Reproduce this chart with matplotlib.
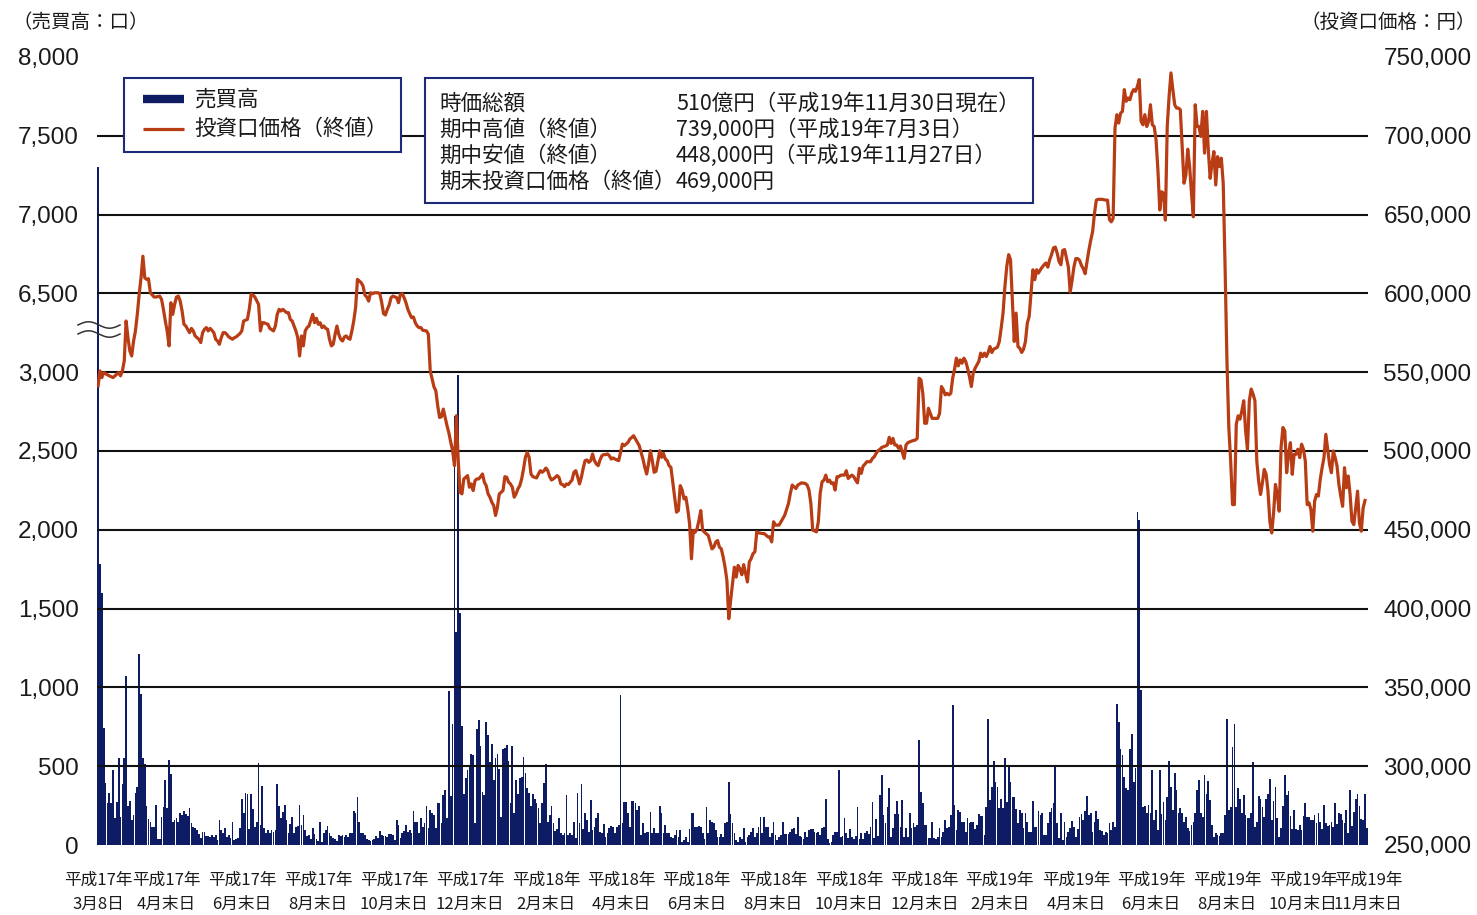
import matplotlib.pyplot as plt
import numpy as np
from matplotlib.lines import Line2D
from matplotlib.patches import Rectangle

plt.rcParams['font.family'] = ['Noto Sans CJK JP', 'DejaVu Sans']

NAVY = '#0e1c64'
FRAME = '#1c2a78'
RED = '#b83c14'
INK = '#1a1a1a'

# 売買高（口） per trading day, from 平成17年3月8日
volume = [
    7300, 1780, 1600, 740,
    395, 264, 327, 268, 475, 169, 274, 549, 179, 390,
    549, 1070, 247, 280, 158, 190, 331, 369, 1213, 960,
    549, 517, 247, 162, 148, 112, 112, 253, 38, 38,
    179, 243, 411, 236, 542, 449, 148, 158, 173, 148,
    200, 190, 217, 196, 184, 236, 141, 116, 105, 95,
    68, 42, 84, 84, 57, 57, 53, 63, 49, 63,
    32, 158, 95, 74, 105, 53, 63, 42, 148, 32,
    38, 42, 105, 289, 200, 331, 323, 99, 323, 226,
    116, 148, 521, 127, 373, 105, 74, 95, 78, 95,
    84, 95, 390,
    249, 169, 211, 253, 158, 78, 133, 179, 74, 116,
    120, 253, 127, 190, 95, 57, 63, 36, 105, 70,
    36, 25, 148, 21, 74, 95, 120, 74, 57, 42,
    36, 27, 63, 57, 63, 49, 63, 53, 78, 78,
    217, 200, 302, 148, 78, 74, 63, 36, 32, 27,
    32, 36, 57, 46, 91, 63, 57, 59, 53, 70,
    70, 63, 32, 158, 127, 42, 78, 91, 127, 84,
    95, 74, 215, 148, 148, 74, 169, 116, 141, 247,
    105, 222, 205, 190, 105, 264, 268, 137, 317, 348,
    169, 977, 310, 770,
    2720, 1350, 2980, 1470,
    753, 323, 422, 475, 500, 580, 570, 141, 738, 795,
    627, 338, 316, 781, 696, 527, 639, 411, 549, 580,
    485, 175, 612, 618, 633, 534, 268, 627, 205, 411,
    323, 422, 433, 559, 458, 359, 331, 247, 323, 289,
    268, 232, 137, 268, 395, 517, 148, 190, 247, 137,
    91, 99, 169, 78, 63, 78, 316, 63, 78, 63,
    148, 42, 331, 137, 390, 99, 200, 158, 84, 285,
    95, 116, 169, 205, 84, 74, 133, 53, 74, 105,
    120, 116, 74, 116, 127, 950, 137, 274, 274, 200,
    116, 280, 280, 264,
    222, 249, 63, 137, 74, 84, 84, 211, 74, 105,
    78, 74, 247, 200, 74, 127, 78, 78, 53, 42,
    63, 95, 53, 95, 21, 32, 53, 21, 99, 205,
    205, 112, 116, 120, 112, 74, 36, 243, 74, 158,
    148, 137, 95, 53, 53, 70, 53, 137, 148, 401,
    196, 141, 74, 32, 21, 53, 36, 105, 21, 53,
    63, 84, 105, 53, 74, 116, 179, 74, 179, 112,
    112, 53, 74, 148, 63, 32, 53, 63, 148, 70,
    70, 70, 84, 99, 105, 70, 179, 57, 53, 36,
    84, 53, 95, 99, 99, 84, 74,
    84, 63, 105, 116, 289, 36, 15, 21, 63, 84,
    84, 475, 53, 57, 169, 74, 42, 99, 53, 36,
    57, 238, 36, 78, 36, 78, 91, 70, 116, 274,
    42, 162, 57, 316, 443, 190, 137, 243, 359, 49,
    105, 196, 280, 196, 116, 285, 53, 105, 53, 205,
    105, 141, 116, 127, 669, 338, 268, 127, 127, 42,
    42, 148, 42, 36, 49, 105, 53, 84, 158, 105,
    116, 190, 886, 253, 95, 222, 211, 148, 148, 84,
    169, 137, 148, 148, 99, 127, 196, 184, 184, 63,
    243, 802, 285, 369, 534, 401, 369,
    232, 295, 232, 549, 274, 492, 401, 306, 306, 226,
    137, 222, 205, 105, 200, 148, 84, 84, 280, 112,
    112, 217, 190, 200, 63, 63, 137, 211, 232, 268,
    500, 137, 42, 200, 32, 148, 53, 84, 105, 154,
    116, 53, 99, 175, 196, 158, 217, 310, 190, 200,
    84, 148, 217, 162, 95, 91, 63, 84, 74, 137,
    95, 148, 116, 893, 781, 612, 570, 433, 359, 352,
    612, 707, 401, 490, 2110, 2060, 985, 243, 247, 205,
    253, 200, 479, 158, 222, 95, 479, 196, 274, 158,
    306, 534, 369, 222, 454, 348, 200, 232,
    200, 148, 179, 105, 91, 127, 148, 205, 348, 411,
    205, 179, 443, 323, 407, 285, 127, 53, 78,
    63, 57, 78, 78, 190, 802, 222, 243, 622, 770,
    243, 359, 289, 200, 316, 190, 169, 169, 205, 527,
    112, 148, 310, 289, 243, 175, 289, 323, 416, 158,
    280, 365, 169, 53, 105, 247, 443, 316, 344, 184,
    99, 222, 99, 95, 127, 95, 184, 264, 175, 175,
    158, 158, 190, 141, 200, 148, 99, 253, 137, 120,
    127, 148, 112, 268, 133, 200, 196, 158, 141, 222,
    74, 352, 120, 211, 289, 323, 247, 162, 158, 323,
    105,
]

# 投資口価格（終値） : trading-day index and close (円)
price_day = [
    0, 1, 2, 3, 5, 6, 8, 10, 11, 12, 13, 14, 15, 16, 17, 18, 19, 20, 21, 22,
    23, 24, 25, 26, 27, 28, 30, 31, 33, 34, 35, 36, 37, 38, 39, 40, 41, 42, 43, 44,
    45, 46, 47, 49, 50, 51, 52, 54, 55, 56, 57, 58, 59, 60, 61, 62, 63, 64, 65, 66,
    67, 68, 69, 70, 72, 73, 74, 76, 77, 78, 80, 81, 82, 83, 84, 86, 87, 88, 89, 90,
    91, 92, 94, 95, 96, 97, 98, 99, 100, 101, 102, 103, 104, 105, 106, 107, 108, 109, 110, 111,
    112, 113, 114, 115, 116, 117, 118, 119, 120, 121, 122, 123, 124, 125, 126, 127, 128, 129, 130, 131,
    132, 133, 134, 135, 136, 137, 138, 139, 140, 141, 142, 143, 144, 145, 146, 147, 148, 150, 151, 152,
    153, 154, 155, 156, 157, 158, 160, 161, 162, 163, 164, 165, 166, 167, 168, 169, 170, 171, 172, 173,
    174, 176, 177, 178, 180, 181, 182, 183, 184, 185, 186, 187, 188, 189, 190, 191, 192, 193, 194, 195,
    196, 197, 198, 199, 200, 201, 202, 203, 204, 205, 206, 207, 208, 209, 210, 211, 212, 213, 214, 215,
    216, 217, 218, 219, 220, 221, 222, 223, 224, 225, 226, 227, 228, 229, 230, 231, 232, 233, 234, 235,
    236, 237, 238, 239, 240, 241, 242, 243, 244, 245, 246, 247, 248, 249, 250, 251, 252, 253, 254, 255,
    256, 257, 258, 259, 260, 261, 262, 263, 264, 265, 266, 267, 268, 269, 270, 271, 272, 273, 274, 275,
    276, 277, 278, 279, 280, 281, 282, 283, 284, 285, 286, 287, 288, 289, 290, 291, 292, 293, 294, 295,
    296, 297, 298, 299, 300, 301, 302, 303, 304, 305, 306, 307, 308, 309, 310, 311, 312, 313, 314, 315,
    316, 317, 318, 319, 320, 321, 322, 323, 324, 325, 326, 327, 328, 329, 330, 331, 332, 333, 334, 335,
    336, 337, 338, 339, 340, 341, 342, 343, 344, 345, 346, 348, 349, 350, 351, 352, 353, 354, 356, 357,
    358, 359, 360, 361, 362, 363, 365, 366, 368, 370, 371, 372, 374, 375, 377, 379, 380, 381, 382, 383,
    385, 386, 387, 388, 389, 390, 391, 392, 393, 394, 395, 396, 397, 398, 399, 400, 401, 402, 403, 404,
    405, 406, 407, 408, 409, 410, 411, 412, 413, 414, 415, 416, 417, 418, 419, 420, 421, 422, 423, 424,
    425, 426, 427, 428, 429, 430, 432, 433, 434, 436, 438, 439, 440, 441, 442, 443, 444, 445, 446, 447,
    449, 450, 451, 452, 453, 454, 455, 456, 457, 458, 459, 460, 461, 462, 463, 464, 465, 466, 467, 468,
    469, 470, 471, 472, 473, 474, 475, 476, 477, 478, 479, 480, 481, 482, 483, 484, 485, 486, 487, 488,
    489, 490, 491, 492, 493, 494, 495, 496, 497, 498, 499, 500, 501, 502, 503, 504, 505, 506, 507, 508,
    509, 510, 511, 512, 513, 514, 515, 516, 517, 518, 520, 521, 522, 523, 524, 525, 526, 527, 528, 529,
    530, 531, 532, 533, 534, 535, 536, 538, 540, 541, 542, 543, 544, 545, 546, 547, 548, 549, 550, 551,
    552, 553, 554, 555, 556, 557, 558, 559, 560, 561, 562, 563, 564, 565, 566, 567, 568, 569, 570, 571,
    572, 573, 574, 575, 576, 577, 578, 579, 580, 581, 582, 583, 584, 585, 586, 587, 588, 589, 590, 591,
    592, 593, 594, 595, 596, 597, 598, 599, 600, 601, 602, 603, 604, 605, 606, 607, 608, 609, 610, 611,
    612, 613, 614, 615, 616, 617, 618, 619, 620, 621, 622, 623, 624, 625, 626, 627, 628, 629, 630, 631,
    632, 633, 634, 635, 636, 637, 638, 639, 640, 641, 642, 643, 644, 645, 646, 647, 648, 649, 650, 651,
    652, 653, 654, 655, 656, 657, 658, 659, 660, 661, 662, 663, 664, 665, 666, 667, 668, 669, 670, 671,
    672, 673, 674, 675, 676, 677, 678, 679,
]
price_close = [
    541300, 550800, 546600, 549800, 548300, 547700, 546600, 548700, 549800, 547700,
    550800, 557200, 582500, 571900, 563500, 560300, 569800, 576200, 586700, 599400,
    609900, 623600, 609900, 608900, 609300, 600400, 597700, 597700, 598300, 596200,
    589900, 582500, 576200, 566700, 594100, 586700, 593000, 597700, 598300, 595100,
    588800, 580400, 579300, 575100, 577800, 576200, 573000, 570900, 568800, 575100,
    577200, 578300, 576200, 577800, 576600, 575100, 570900, 569800, 567700, 571900,
    575100, 575100, 574000, 572400, 570900, 571900, 572400, 574500, 576200, 582500,
    583500, 589900, 599400, 598900, 597700, 593000, 576200, 581400, 581400, 580800,
    580400, 577800, 576200, 579300, 586700, 589900, 588800, 589900, 588800, 587800,
    587800, 583500, 582500, 579300, 576200, 571900, 560300, 573000, 566700, 576200,
    578300, 579300, 582900, 586700, 581400, 584200, 580400, 581400, 578300, 579300,
    577800, 577200, 570900, 566700, 567700, 574000, 579300, 574000, 570900, 569800,
    572400, 573000, 571500, 570900, 576200, 582500, 591000, 608900, 607800, 606800,
    604600, 598900, 597700, 595100, 600400, 599800, 600400, 600400, 599800, 594100,
    587100, 586300, 589900, 592600, 597300, 598300, 597300, 594100, 599400, 599800,
    597300, 594100, 589900, 587100, 584600, 585000, 581400, 579300, 578300, 578300,
    576600, 576200, 574000, 550800, 540700, 538200, 528700, 521300, 521700, 526600,
    521300, 516000, 511400, 505500, 500200, 490700, 522400, 493900, 473800, 472800,
    482300, 483300, 484400, 477000, 479100, 474900, 481200, 482300, 482300, 483700,
    485400, 480200, 478000, 472800, 470700, 467500, 465400, 459100, 464300, 472800,
    473800, 474900, 483700, 483300, 480200, 479100, 477000, 470700, 472800, 476000,
    478000, 482300, 488600, 496000, 499100, 496000, 485400, 483700, 483300, 482900,
    485400, 487500, 486500, 487500, 489200, 487500, 483700, 481600, 482300, 483300,
    484400, 483300, 479100, 478700, 477400, 479100, 478700, 480200, 481600, 486500,
    487500, 483700, 479100, 483300, 489200, 493900, 494300, 492800, 493900, 498100,
    493900, 491800, 490700, 494300, 497000, 497700, 497700, 498100, 497000, 494900,
    495600, 494900, 494300, 493900, 499100, 504400, 503400, 504400, 505500, 507600,
    508600, 509700, 507600, 505500, 503400, 499100, 494900, 489600, 485400, 491800,
    500200, 493900, 486500, 487100, 493400, 500200, 496000, 498500, 494900, 493900,
    490700, 489600, 480200, 470700, 461200, 462200, 478000, 475300, 469600, 470700,
    463300, 453800, 431600, 449600, 448500, 450600, 455900, 462200, 449600, 448500,
    447400, 446400, 442200, 437900, 439000, 442200, 443200, 439000, 437900, 432700,
    426300, 417900, 393600, 405200, 416000, 426300, 420000, 427400, 425300, 421500,
    427900, 416900, 429600, 431700, 434900, 436000, 448700, 448100, 447600, 447600,
    446600, 445500, 445500, 442300, 455100, 453000, 453000, 455100, 459300, 466700,
    473100, 478400, 476200, 478400, 479800, 479400, 478400, 475200, 466700, 449800,
    448700, 455100, 473100, 480500, 481500, 484700, 480500, 481500, 479400, 479800,
    475200, 483700, 483700, 484700, 484700, 484700, 487500, 482600, 483700, 484700,
    483700, 481500, 479800, 489000, 485800, 490400, 491700, 493200, 493200, 493200,
    495300, 496400, 498500, 500200, 501000, 502300, 502700, 503200, 503800, 508700,
    504800, 508000, 503800, 503800, 501700, 503200, 495300, 503800, 505300, 506300,
    507000, 508000, 546200, 545100, 536600, 517600, 517600, 527100, 523900, 520700,
    520700, 520700, 523900, 540900, 538800, 535600, 536600, 535600, 536600, 546200,
    551900, 558900, 554000, 557800, 555700, 558900, 556800, 552500, 547200, 540900,
    549300, 552500, 554600, 556800, 562100, 559900, 562100, 559900, 562500, 566300,
    562500, 564600, 565200, 565900, 569500, 578000, 587500, 604400, 617200, 624600,
    621400, 596000, 569500, 587500, 566300, 565200, 562500, 564600, 569500, 581100,
    585400, 600200, 615000, 608700, 615000, 612900, 615000, 616700, 618200, 619300,
    616700, 621400, 624600, 628800, 629400, 625600, 620300, 618200, 627300, 627800,
    616800, 600900, 608300, 616800, 622100, 622100, 621000, 617800, 615700, 612500,
    620000, 627400, 633800, 639100, 650700, 659200, 659700, 659700, 659200, 659200,
    646900, 645400, 647600, 704900, 713400, 708100, 714400, 715500, 729300, 721900,
    724000, 722900, 727200, 729300, 728200, 731400, 735700, 709100, 707000, 713400,
    705900, 709100, 719700, 707000, 705900, 697500, 678300, 652900, 664500, 663500,
    646500, 705900, 725100, 739900, 729300, 719700, 717600, 717600, 716600, 693200,
    669900, 675200, 691500, 680500, 663500, 648600, 719700, 705900, 705900, 699600,
    715500, 689000, 715500, 691100, 673000, 682600, 690000, 668800, 686800, 680500,
    685800, 669900, 616800, 557300, 514900, 493600, 466000, 466000, 517000, 522300,
    520200, 525500, 531900, 512800, 501100, 531900, 539300, 536100, 531900, 493600,
    480900, 472400, 479800, 488300, 485200, 474500, 455400, 448000, 460700, 478800,
    472400, 461800, 502100, 514900, 512800, 486200, 497900, 505300, 485200, 497900,
    497900, 501100, 495800, 504300, 501100, 493600, 466000, 467100, 462900, 449100,
    468200, 472400, 471400, 482000, 489400, 495800, 510600, 501100, 491500, 486200,
    500000, 495800, 490500, 478800, 471400, 464900, 489400, 476700, 484100, 472400,
    455400, 453300, 463900, 474500, 454400, 449100, 463900, 468600,
]

tick_days = [0, 36.4, 77.1, 117.8, 158.6, 199.3, 240.0, 280.2, 320.9,
             361.7, 402.4, 443.1, 483.3, 524.1, 564.3, 605.0, 645.7, 680.6]
tick_years = ['平成17年'] * 6 + ['平成18年'] * 6 + ['平成19年'] * 6
tick_dates = ['3月8日', '4月末日', '6月末日', '8月末日', '10月末日', '12月末日',
              '2月末日', '4月末日', '6月末日', '8月末日', '10月末日', '12月末日',
              '2月末日', '4月末日', '6月末日', '8月末日', '10月末日', '11月末日']

vol_ticks = [0, 500, 1000, 1500, 2000, 2500, 3000, 6500, 7000, 7500, 8000]
price_ticks = [250000, 300000, 350000, 400000, 450000, 500000,
               550000, 600000, 650000, 700000, 750000]

info_names = ['時価総額', '期中高値（終値）', '期中安値（終値）', '期末投資口価格（終値）']
info_values = ['510億円（平成19年11月30日現在）', '739,000円（平成19年7月3日）',
               '448,000円（平成19年11月27日）', '469,000円']


# broken volume axis: 3,000 -> 6,500 squeezed into one step
def vol_fwd(v):
    v = np.asarray(v, dtype=float)
    return np.where(v <= 3000, v / 500,
                    np.where(v < 6500, 6 + (v - 3000) / 3500, 7 + (v - 6500) / 500))


def vol_inv(u):
    u = np.asarray(u, dtype=float)
    return np.where(u <= 6, u * 500,
                    np.where(u < 7, 3000 + (u - 6) * 3500, 6500 + (u - 7) * 500))


W, H = 1477, 915


def fx(px):
    return px / W


def fy(py):
    return 1 - py / H


fig = plt.figure(figsize=(W / 100, H / 100), dpi=100)
ax = fig.add_axes([fx(97), fy(845), 1271 / W, 788 / H])

days = np.arange(len(volume))
ax.bar(days, volume, width=0.92, color=NAVY, linewidth=0, zorder=1)
ax.set_yscale('function', functions=(vol_fwd, vol_inv))
ax.set_ylim(0, 8000)
ax.set_xlim(-0.6, 680.6)
for v in vol_ticks[1:-1]:
    ax.axhline(v, color='#111111', lw=1.5, zorder=1.5)

ax.set_yticks(vol_ticks, labels=[f'{v:,}' for v in vol_ticks],
              fontsize=17.5, fontfamily='Liberation Sans', color=INK)
ax.set_xticks(tick_days, labels=[f'{a}\n{b}' for a, b in zip(tick_years, tick_dates)],
              fontsize=12, linespacing=1.55, color=INK)
ax.tick_params(axis='y', length=0, pad=13)
ax.tick_params(axis='x', length=0, pad=19)

ax2 = ax.twinx()
ax2.plot(price_day, price_close, color=RED, lw=2.3, zorder=3)
ax2.set_ylim(250000, 750000)
ax2.set_yticks(price_ticks, labels=[f'{v:,}' for v in price_ticks],
               fontsize=17.5, fontfamily='Liberation Sans', color=INK)
ax2.tick_params(axis='y', length=0, pad=11)

for a in (ax, ax2):
    for s in a.spines.values():
        s.set_visible(False)
    a.patch.set_visible(False)

# axis-break mark on the volume scale
t = np.linspace(0, 1, 60)
for y0 in (325, 334):
    ax.plot(fx(78) + (fx(120) - fx(78)) * t, fy(y0) + 3.2 / H * np.sin(2 * np.pi * t),
            transform=fig.transFigure, color='#333333', lw=1.1, clip_on=False, zorder=4)

# unit captions
fig.text(fx(12), fy(22), '（売買高：口）', ha='left', va='center', fontsize=14, color=INK)
fig.text(fx(1476), fy(22), '（投資口価格：円）', ha='right', va='center', fontsize=14, color=INK)

# legend box
fig.add_artist(Rectangle((fx(124), fy(152)), (401 - 124) / W, 74 / H, transform=fig.transFigure,
                         facecolor='white', edgecolor=FRAME, lw=1.5, zorder=5))
fig.add_artist(Line2D([fx(143), fx(184)], [fy(99), fy(99)], transform=fig.transFigure,
                      color=NAVY, lw=6, solid_capstyle='butt', zorder=6))
fig.add_artist(Line2D([fx(143), fx(184)], [fy(129), fy(129)], transform=fig.transFigure,
                      color=RED, lw=2.3, solid_capstyle='butt', zorder=6))
fig.text(fx(194), fy(100), '売買高', va='center', fontsize=15.5, color=INK, zorder=6)
fig.text(fx(194), fy(129), '投資口価格（終値）', va='center', fontsize=15.5, color=INK, zorder=6)

# info box
fig.add_artist(Rectangle((fx(425), fy(203)), (1033 - 425) / W, 125 / H, transform=fig.transFigure,
                         facecolor='white', edgecolor=FRAME, lw=1.5, zorder=5))
for i, (name, val) in enumerate(zip(info_names, info_values)):
    yy = 104 + 26 * i
    fig.text(fx(439), fy(yy), name, va='center', fontsize=15.5, color=INK, zorder=6)
    fig.text(fx(676), fy(yy), val, va='center', fontsize=15.5, color=INK, zorder=6)

fig.savefig('out.png', dpi=100, facecolor='white')
